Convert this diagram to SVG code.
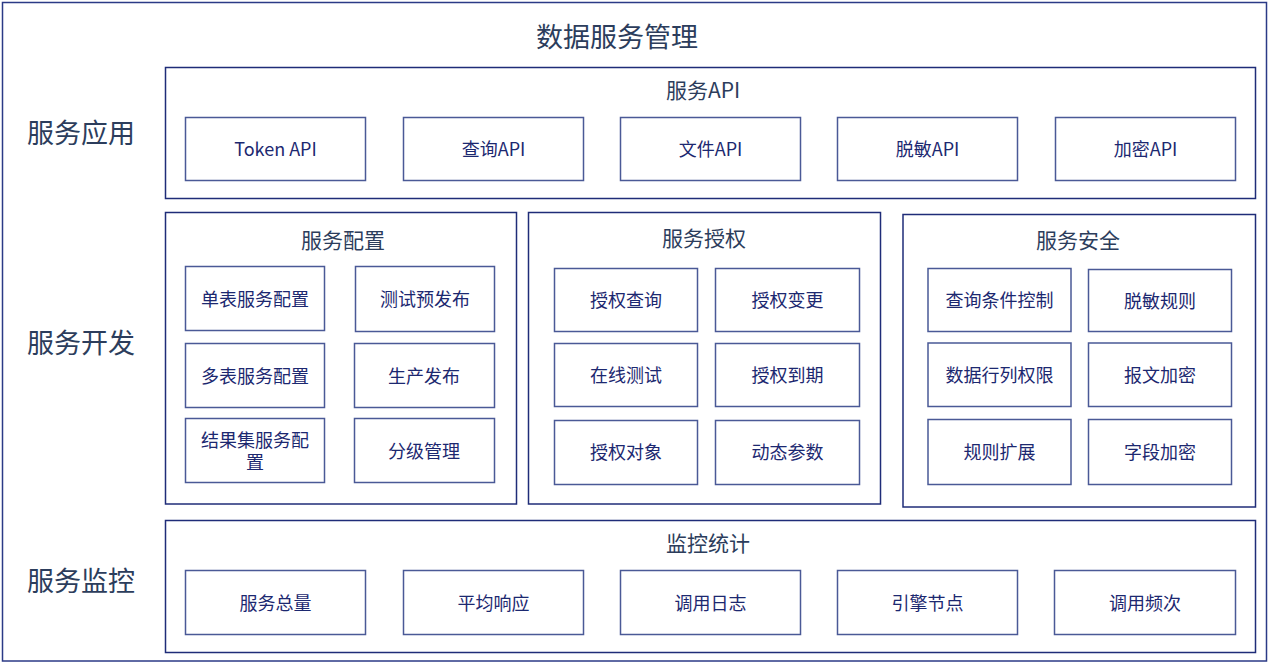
<svg xmlns="http://www.w3.org/2000/svg" width="1269" height="663" viewBox="0 0 1269 663">
<style>
.frame{fill:#fff;stroke:#2b3a86;stroke-width:1.5}
.sec{fill:#fff;stroke:#1f2c78;stroke-width:1.5}
.box{fill:#fff;stroke:#4a5996;stroke-width:1.5}
text{font-family:"Noto Sans CJK SC","Microsoft YaHei",sans-serif;dominant-baseline:central;text-anchor:middle}
.big{font-size:27px;fill:#2c3d5c}
.title{font-size:21px;fill:#2c3d5c}
.lbl{font-size:18px;fill:#1c2870}
</style>
<rect x="0" y="0" width="1269" height="663" fill="#fff"/>
<rect class="frame" x="2.5" y="2.5" width="1264" height="658.5"/>
<text class="big" x="617" y="35">数据服务管理</text>
<text class="big" x="81" y="131">服务应用</text>
<text class="big" x="81" y="341">服务开发</text>
<text class="big" x="81" y="579">服务监控</text>

<g id="api">
<rect class="sec" x="165.5" y="67.5" width="1090" height="131"/>
<text class="title" x="703" y="88.5">服务API</text>
</g>
<g id="api-token"><rect class="box" x="185.5" y="117.5" width="180" height="63"/><text class="lbl" x="275.5" y="147.5">Token API</text></g>
<g id="api-query"><rect class="box" x="403.5" y="117.5" width="180" height="63"/><text class="lbl" x="493.5" y="147.5">查询API</text></g>
<g id="api-file"><rect class="box" x="620.5" y="117.5" width="180" height="63"/><text class="lbl" x="710.5" y="147.5">文件API</text></g>
<g id="api-mask"><rect class="box" x="837.5" y="117.5" width="180" height="63"/><text class="lbl" x="927.5" y="147.5">脱敏API</text></g>
<g id="api-enc"><rect class="box" x="1055.5" y="117.5" width="180" height="63"/><text class="lbl" x="1145.5" y="147.5">加密API</text></g>

<g id="config">
<rect class="sec" x="165.5" y="212.5" width="351" height="291.5"/>
<text class="title" x="343" y="238.5">服务配置</text>
</g>
<g id="cfg1"><rect class="box" x="185.5" y="266.5" width="139" height="64"/><text class="lbl" x="255" y="297.5">单表服务配置</text></g>
<g id="cfg2"><rect class="box" x="355.5" y="266.5" width="139" height="65"/><text class="lbl" x="425" y="297.5">测试预发布</text></g>
<g id="cfg3"><rect class="box" x="185.5" y="343.5" width="139" height="64"/><text class="lbl" x="255" y="374.5">多表服务配置</text></g>
<g id="cfg4"><rect class="box" x="354.5" y="343.5" width="140" height="64"/><text class="lbl" x="424" y="374.5">生产发布</text></g>
<g id="cfg5"><rect class="box" x="185.5" y="418.5" width="139" height="64"/><text class="lbl"><tspan x="255" y="438.5">结果集服务配</tspan><tspan x="255" y="461">置</tspan></text></g>
<g id="cfg6"><rect class="box" x="354.5" y="418.5" width="140" height="64"/><text class="lbl" x="424" y="449.5">分级管理</text></g>

<g id="auth">
<rect class="sec" x="528.5" y="212.5" width="352" height="291.5"/>
<text class="title" x="704" y="236.5">服务授权</text>
</g>
<g id="au1"><rect class="box" x="554.5" y="268.5" width="143" height="63"/><text class="lbl" x="626" y="298.5">授权查询</text></g>
<g id="au2"><rect class="box" x="715.5" y="268.5" width="144" height="63"/><text class="lbl" x="787.5" y="298.5">授权变更</text></g>
<g id="au3"><rect class="box" x="554.5" y="343.5" width="143" height="63"/><text class="lbl" x="626" y="373.5">在线测试</text></g>
<g id="au4"><rect class="box" x="715.5" y="343.5" width="144" height="63"/><text class="lbl" x="787.5" y="373.5">授权到期</text></g>
<g id="au5"><rect class="box" x="554.5" y="420.5" width="143" height="64"/><text class="lbl" x="626" y="450.5">授权对象</text></g>
<g id="au6"><rect class="box" x="715.5" y="420.5" width="144" height="64"/><text class="lbl" x="787.5" y="450.5">动态参数</text></g>

<g id="security">
<rect class="sec" x="903" y="214.5" width="352.5" height="292.5"/>
<text class="title" x="1078" y="238.5">服务安全</text>
</g>
<g id="se1"><rect class="box" x="928" y="268.5" width="143" height="63"/><text class="lbl" x="999.5" y="298.5">查询条件控制</text></g>
<g id="se2"><rect class="box" x="1088.5" y="269.5" width="143" height="62"/><text class="lbl" x="1160" y="299.5">脱敏规则</text></g>
<g id="se3"><rect class="box" x="928" y="343" width="143" height="63.5"/><text class="lbl" x="999.5" y="373.5">数据行列权限</text></g>
<g id="se4"><rect class="box" x="1088.5" y="343" width="143" height="63.5"/><text class="lbl" x="1160" y="373.5">报文加密</text></g>
<g id="se5"><rect class="box" x="928" y="419.5" width="143" height="65"/><text class="lbl" x="999.5" y="450.5">规则扩展</text></g>
<g id="se6"><rect class="box" x="1088.5" y="419.5" width="143" height="65"/><text class="lbl" x="1160" y="450.5">字段加密</text></g>

<g id="monitor">
<rect class="sec" x="165.5" y="520.5" width="1090" height="132"/>
<text class="title" x="708" y="541.5">监控统计</text>
</g>
<g id="mo1"><rect class="box" x="185.5" y="570.5" width="180" height="64"/><text class="lbl" x="275.5" y="601.5">服务总量</text></g>
<g id="mo2"><rect class="box" x="403.5" y="570.5" width="180" height="64"/><text class="lbl" x="493.5" y="601.5">平均响应</text></g>
<g id="mo3"><rect class="box" x="620.5" y="570.5" width="180" height="64"/><text class="lbl" x="710.5" y="601.5">调用日志</text></g>
<g id="mo4"><rect class="box" x="837.5" y="570.5" width="180" height="64"/><text class="lbl" x="927.5" y="601.5">引擎节点</text></g>
<g id="mo5"><rect class="box" x="1054.5" y="570.5" width="181" height="64"/><text class="lbl" x="1145" y="601.5">调用频次</text></g>
<g id="connectors"></g>
</svg>
